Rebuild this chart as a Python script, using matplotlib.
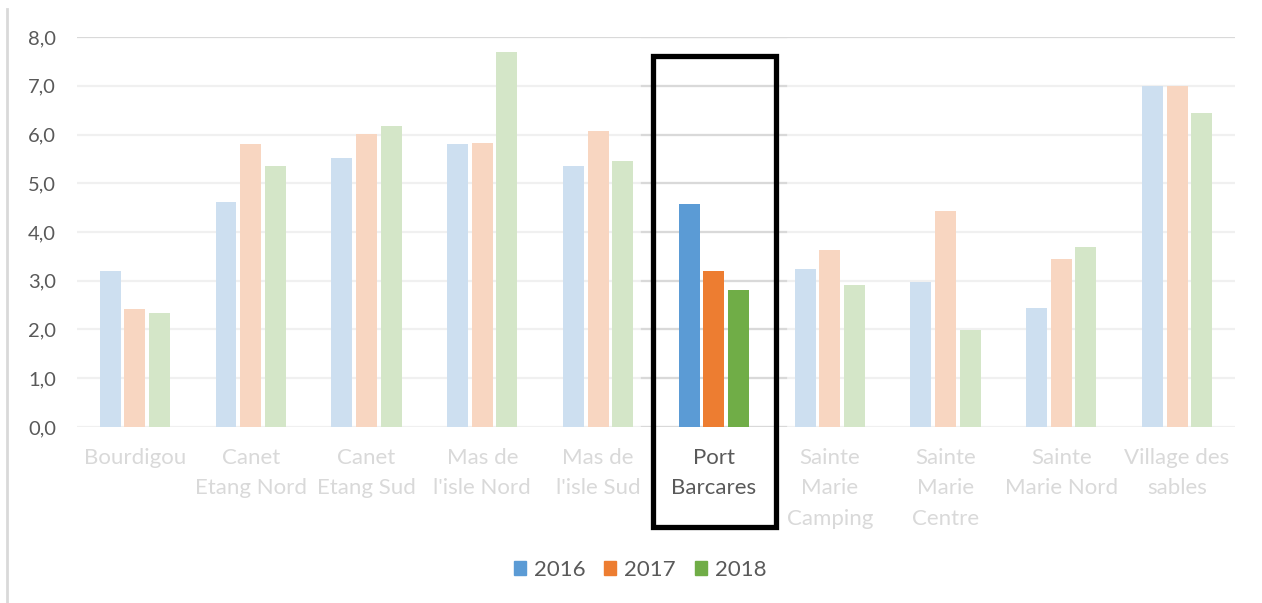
import numpy as np
import matplotlib.pyplot as plt
from matplotlib.patches import Rectangle
from matplotlib.lines import Line2D

plt.rcParams['font.family'] = ['Lato', 'DejaVu Sans']

sites = ['Bourdigou', 'Canet\nEtang Nord', 'Canet\nEtang Sud', 'Mas de\nl\'isle Nord', 'Mas de\nl\'isle Sud',
         'Port\nBarcares', 'Sainte\nMarie\nCamping', 'Sainte\nMarie\nCentre', 'Sainte\nMarie Nord', 'Village des\nsables']
years = ['2016', '2017', '2018']
v2016 = [3.19, 4.62, 5.52, 5.80, 5.36, 4.58, 3.25, 2.98, 2.45, 6.99]
v2017 = [2.42, 5.80, 6.02, 5.83, 6.07, 3.19, 3.64, 4.43, 3.45, 6.99]
v2018 = [2.34, 5.36, 6.17, 7.70, 5.45, 2.81, 2.92, 1.98, 3.69, 6.44]
highlight = 5

full_col = ['#5b9bd5', '#ed7d31', '#70ad47']
pale_col = ['#cddff0', '#f8d6c1', '#d4e6c8']

fig = plt.figure(figsize=(12.62, 6.03), dpi=100)
ax = fig.add_axes([0.061, 0.2919, 0.9176, 0.6467])

x = np.arange(len(sites))
offs = [-0.2125, 0, 0.2125]
for k, vals in enumerate([v2016, v2017, v2018]):
    cols = [full_col[k] if i == highlight else pale_col[k] for i in range(len(sites))]
    ax.bar(x + offs[k], vals, width=0.18, color=cols, zorder=3)

ax.set_xlim(-0.5, len(sites) - 0.5)
ax.set_ylim(0, 8)

# gridlines: faded everywhere, normal inside the highlighted column
for yv in range(0, 9):
    c = '#d9d9d9' if yv == 8 else '#f0f0f0'
    ax.axhline(yv, color=c, lw=1.6, zorder=1)
    ax.plot([highlight - 0.62, highlight + 0.62], [yv, yv], color='#d9d9d9', lw=1.6, zorder=2)

for s in ax.spines.values():
    s.set_visible(False)
ax.tick_params(length=0)
ax.set_yticks(range(0, 9))
ax.set_yticklabels(['%d,0' % v for v in range(0, 9)], fontsize=14.5, color='#595959')
ax.tick_params(axis='y', pad=15)
ax.set_xticks(x)
ax.set_xticklabels(sites, fontsize=16, linespacing=1.65)
ax.tick_params(axis='x', pad=15)
for i, lab in enumerate(ax.get_xticklabels()):
    lab.set_color('#595959' if i == highlight else '#d9d9d9')

ax.add_patch(Rectangle((highlight - 0.527, -2.05), 1.062, 9.66, fill=False, ec='black', lw=3.8,
                       clip_on=False, zorder=5))

handles = [Rectangle((0, 0), 1, 1, color=c) for c in full_col]
fig.legend(handles, years, loc='center', bbox_to_anchor=(0.507, 0.055), ncol=3, frameon=False,
           fontsize=16, labelcolor='#595959', handlelength=0.55, handleheight=0.55,
           handletextpad=0.35, columnspacing=0.85)

fig.add_artist(Line2D([0.0055, 0.0055], [0.0, 0.985], color='#d9d9d9', lw=2))

fig.savefig('out.png', dpi=100)
